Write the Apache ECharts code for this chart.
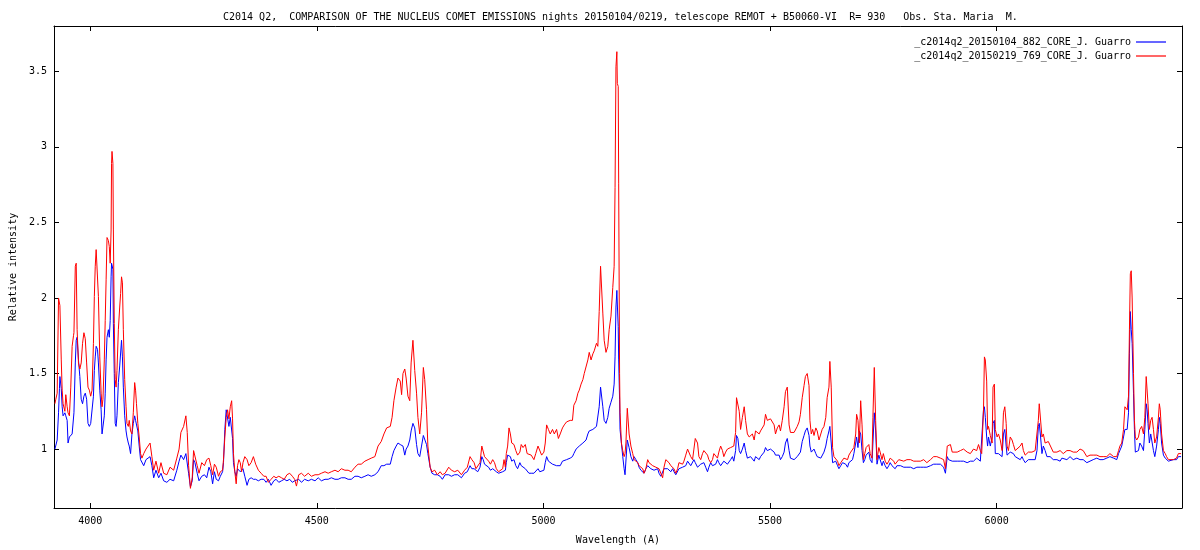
<!DOCTYPE html>
<html>
<head>
<meta charset="utf-8">
<script src="https://cdn.jsdelivr.net/npm/echarts@6/dist/echarts.min.js"></script>
<style>html,body{margin:0;padding:0;background:#fff}#c{width:1200px;height:550px}</style>
</head>
<body>
<div id="c"></div>
<script>
const titleText = "C2014 Q2,  COMPARISON OF THE NUCLEUS COMET EMISSIONS nights 20150104/0219, telescope REMOT + B50060-VI  R= 930   Obs. Sta. Maria  M.";
const seriesNames = ["_c2014q2_20150104_882_CORE_J. Guarro", "_c2014q2_20150219_769_CORE_J. Guarro"];
const xTicks = [4000, 4500, 5000, 5500, 6000];
const yTicks = [1, 1.5, 2, 2.5, 3, 3.5];

const wavelength = [
3922,3924,3927,3930,3932,3933,3936,3938,3940,3944,3946,3949,3951,3954,3957,3960,3963,3964,3967,3969,3971,3974,3977,3980,3983,3986,3989,3992,3995,3998,4001,4004,4007,4009,4011,4013,4016,4018,4021,4024,4026,4028,4031,4033,4035,4037,4040,4042,4044,4046,4047,4048,4050,4051,4053,4055,4057,4059,4062,4065,4067,4069,4071,4073,4076,4079,4081,4084,4086,4089,4092,4095,4098,4100,4102,4105,4108,4111,4114,
4118,4123,4127,4132,4136,4140,4145,4151,4156,4162,4169,4176,4184,4191,4196,4200,4206,4211,4214,4217,4221,4225,4228,4231,4236,4240,
4246,4252,4257,4262,4266,4270,4274,4278,4283,4287,4292,4294,4297,4300,4303,4306,4309,4312,4314,4316,4319,4322,4325,4328,4331,4334,4337,4341,4346,4350,4355,4360,4365,4371,4377,4383,4388,4393,4399,4405,4410,4416,4422,4428,4434,4440,4446,4451,4455,4460,4466,4473,4481,4488,4496,4503,4510,4518,4525,4532,4540,4547,4554,4562,4569,4576,4584,4591,4598,4606,4613,4620,4628,4635,4642,4648,4654,4662,4666,4670,4675,4679,4684,4687,4690,4694,4697,4701,4705,4708,4712,4716,4720,4723,4727,4731,4735,4738,4742,4745,4750,4754,4760,4766,4772,4777,4783,4791,4797,4804,4811,4819,
4826,4832,4838,4842,4847,4851,4855,4860,4864,4867,4870,4874,4879,4883,4888,4892,4896,4901,4905,4910,4913,4916,4918,4921,4924,4927,4930,4935,4939,4943,4948,4951,4955,4960,4964,4968,4973,4979,4983,4988,4992,4996,5001,5004,5007,5011,5015,5020,5024,5029,5033,5037,5042,5046,5051,5055,5059,5064,
5067,5072,5076,5079,5083,5087,5090,5094,5098,5101,5105,5109,5112,5117,5120,5123,5126,5129,5131,5134,5138,5142,5145,5149,5153,5156,5158,5160,5162,5163,5165,5166,5168,5169,5172,5175,5178,5180,5182,5185,5189,5193,5197,5200,5204,5208,
5211,5215,5219,5222,5226,5230,5233,5237,5241,5244,5248,5252,5255,5259,5263,5266,5270,5274,5277,5281,5285,5288,5292,5296,5299,5303,5307,5310,5314,5318,5321,5325,5329,5332,5335,5340,5343,5347,5351,5354,5358,5362,5365,5369,5373,5376,5380,5384,5387,5391,5395,5398,5402,5406,5409,5413,5417,5420,5424,5426,5429,5432,5435,5439,5443,5446,5450,5454,5457,5461,5465,5468,5472,5476,5479,5483,5487,5490,5494,5498,5501,5505,5509,5512,5516,5520,5523,5527,5531,5534,5538,5542,5545,5549,5553,5556,5560,5564,5567,5571,5575,5578,5582,5586,5588,5591,5594,5597,5601,5604,5608,5612,5615,5619,5623,5626,5630,5632,5635,5638,5641,5645,5649,5652,5656,5660,5663,5667,5671,5674,5678,5682,5685,5689,5691,5694,5697,5700,5703,5706,5709,5712,5715,5718,5721,5725,5727,5730,5733,5736,5740,5743,5747,5750,5754,5758,5762,5765,5769,5773,5776,5780,5784,
5788,5795,5802,5810,5817,5824,5832,5839,5846,5854,5861,5868,5876,5883,5887,5891,5894,5898,5902,5905,5913,5920,5927,5935,5942,5949,5956,5960,5964,5967,5971,5973,5975,5978,5980,5982,5986,5990,5992,5995,5997,6001,6004,6008,6012,6015,6018,6021,6023,6026,6030,6034,6037,6041,6045,6052,6056,6059,6063,6070,6078,6085,6089,6092,6094,6097,6100,6103,6107,6111,6114,6118,6125,6133,6140,6144,6147,6155,6162,6169,6177,6184,6191,6199,6206,6213,6221,6228,6235,6243,6250,6258,6265,6269,6272,6276,6280,6283,6286,6288,6291,6293,6295,6297,6299,6302,6304,6306,6309,6313,6316,6320,6324,6327,6330,6332,6334,6337,6340,6343,6346,6349,6353,6357,6359,6361,6364,6368,6372,6375,6379,6383,6390,6397,6401,6407
];

const blueValues = [
1.00,1.01,1.06,1.24,1.40,1.48,1.40,1.28,1.22,1.24,1.22,1.19,1.04,1.08,1.08,1.10,1.10,1.24,1.57,1.72,1.74,1.59,1.48,1.33,1.30,1.35,1.37,1.33,1.17,1.15,1.17,1.17,1.35,1.52,1.61,1.68,1.66,1.57,1.39,1.26,1.10,1.10,1.22,1.37,1.59,1.74,1.79,1.74,1.85,2.14,2.23,2.24,2.19,1.83,1.50,1.17,1.15,1.22,1.44,1.55,1.55,1.72,1.61,1.41,1.22,1.12,1.08,1.04,1.02,0.97,1.10,1.17,1.22,1.19,1.19,1.12,1.02,0.93,0.93,
0.89,0.93,0.92,0.95,0.89,0.81,0.86,0.81,0.84,0.79,0.78,0.80,0.79,0.86,0.92,0.96,0.93,0.97,0.96,0.84,0.75,0.79,0.93,0.91,0.84,0.79,
0.82,0.83,0.81,0.88,0.85,0.77,0.85,0.80,0.79,0.82,0.85,0.91,1.13,1.26,1.27,1.15,1.21,1.20,1.07,0.91,0.85,0.82,0.87,0.86,0.85,0.85,0.87,0.82,0.76,0.80,0.81,0.80,0.80,0.79,0.80,0.80,0.78,0.80,0.76,0.79,0.80,0.78,0.79,0.80,0.79,0.80,0.78,0.79,0.79,0.80,0.78,0.80,0.79,0.80,0.79,0.81,0.79,0.80,0.80,0.81,0.80,0.80,0.81,0.81,0.80,0.80,0.82,0.82,0.81,0.82,0.83,0.82,0.83,0.85,0.89,0.89,0.90,0.90,0.95,0.99,1.02,1.04,1.03,1.02,1.02,0.96,1.00,1.02,1.06,1.12,1.17,1.14,1.03,0.97,0.95,1.02,1.09,1.10,1.03,0.97,0.88,0.84,0.83,0.83,0.82,0.80,0.83,0.83,0.82,0.83,0.83,0.81,
0.84,0.85,0.89,0.87,0.87,0.86,0.85,0.88,0.95,0.93,0.90,0.89,0.88,0.86,0.87,0.86,0.85,0.84,0.83,0.85,0.86,0.86,0.91,0.96,0.96,0.95,0.92,0.93,0.89,0.87,0.91,0.89,0.88,0.87,0.86,0.84,0.84,0.84,0.85,0.87,0.85,0.85,0.86,0.91,0.95,0.92,0.91,0.90,0.89,0.89,0.88,0.89,0.92,0.93,0.93,0.93,0.94,0.95,
0.97,1.00,1.01,1.02,1.03,1.04,1.05,1.06,1.10,1.12,1.11,1.13,1.12,1.15,1.16,1.28,1.41,1.41,1.28,1.19,1.17,1.21,1.27,1.31,1.35,1.43,1.61,1.94,2.05,1.96,1.81,1.59,1.33,1.13,1.04,0.95,0.87,0.83,0.84,1.06,1.01,0.95,0.92,0.95,0.93,0.91,
0.88,0.86,0.87,0.84,0.87,0.89,0.88,0.87,0.87,0.86,0.85,0.87,0.84,0.82,0.81,0.87,0.88,0.87,0.88,0.85,0.87,0.85,0.83,0.84,0.87,0.87,0.88,0.87,0.89,0.92,0.91,0.89,0.88,0.93,0.91,0.88,0.89,0.90,0.89,0.91,0.88,0.85,0.88,0.91,0.89,0.88,0.90,0.93,0.91,0.89,0.90,0.92,0.91,0.90,0.91,0.93,0.95,0.92,0.99,1.09,1.07,0.99,0.97,1.00,1.04,0.99,0.94,0.93,0.95,0.94,0.92,0.95,0.94,0.93,0.95,0.96,0.98,1.01,0.99,1.00,1.00,1.00,0.98,0.96,0.95,0.96,0.93,0.95,0.98,1.04,1.07,0.99,0.94,0.93,0.93,0.94,0.95,0.96,0.98,1.05,1.09,1.12,1.14,1.09,1.02,0.98,0.97,1.00,0.97,0.95,0.96,0.94,0.95,0.98,1.02,1.07,1.12,1.15,1.04,0.91,0.90,0.92,0.89,0.87,0.89,0.91,0.91,0.90,0.88,0.91,0.91,0.93,0.97,1.04,1.08,1.01,1.12,1.10,0.99,0.91,0.93,0.96,0.95,0.98,0.93,0.91,1.04,1.24,1.12,0.90,0.96,0.93,0.89,0.92,0.89,0.87,0.89,0.91,0.89,0.88,0.87,0.89,0.90,
0.89,0.88,0.88,0.88,0.87,0.88,0.88,0.88,0.88,0.89,0.90,0.90,0.90,0.88,0.84,0.95,0.93,0.92,0.92,0.93,0.92,0.92,0.92,0.91,0.92,0.92,0.94,0.93,0.92,0.93,1.26,1.28,1.21,1.08,1.02,1.08,1.02,1.08,1.17,1.19,0.97,0.98,0.97,0.96,0.95,1.10,1.13,1.02,0.96,0.95,0.98,0.98,0.97,0.95,0.94,0.93,0.95,0.93,0.91,0.93,0.93,0.93,0.99,1.15,1.17,1.08,0.97,1.02,0.99,0.95,0.96,0.95,0.93,0.93,0.92,0.94,0.93,0.93,0.95,0.93,0.94,0.93,0.93,0.91,0.92,0.93,0.94,0.93,0.93,0.94,0.95,0.94,0.93,0.97,0.97,1.02,1.08,1.13,1.14,1.13,1.24,1.63,1.91,1.79,1.70,1.37,1.13,0.98,0.97,0.99,1.04,1.02,0.99,1.13,1.30,1.26,1.17,1.04,1.10,1.09,0.99,0.95,1.02,1.13,1.21,1.17,1.04,0.96,0.94,0.93,0.92,0.93,0.93,0.93,0.95,0.95
];

const redValues = [
1.30,1.33,1.37,2.00,2.01,1.95,1.59,1.39,1.30,1.25,1.36,1.28,1.24,1.22,1.41,1.68,1.75,1.77,2.21,2.23,1.79,1.57,1.53,1.57,1.70,1.77,1.73,1.57,1.41,1.39,1.35,1.39,1.70,2.01,2.21,2.32,2.32,2.01,1.61,1.37,1.28,1.33,1.59,1.85,2.12,2.40,2.38,2.34,2.23,2.45,2.89,2.97,2.89,2.45,1.83,1.46,1.41,1.52,1.79,1.94,2.03,2.14,2.10,1.79,1.46,1.28,1.17,1.15,1.19,1.12,1.10,1.24,1.44,1.39,1.30,1.17,1.08,0.97,0.94,
0.97,1.00,1.01,1.04,0.95,0.86,0.92,0.84,0.91,0.84,0.83,0.88,0.86,0.94,1.00,1.11,1.15,1.22,1.11,0.89,0.74,0.81,0.99,1.00,0.89,0.84,
0.91,0.89,0.93,0.94,0.89,0.83,0.90,0.88,0.82,0.85,0.86,0.93,1.08,1.21,1.26,1.20,1.28,1.32,1.20,0.97,0.85,0.77,0.89,0.93,0.91,0.85,0.91,0.95,0.93,0.89,0.91,0.95,0.90,0.86,0.84,0.82,0.82,0.78,0.80,0.82,0.81,0.82,0.81,0.80,0.83,0.84,0.82,0.80,0.755,0.83,0.84,0.82,0.84,0.82,0.83,0.83,0.84,0.85,0.84,0.85,0.86,0.85,0.87,0.86,0.86,0.85,0.88,0.90,0.90,0.92,0.93,0.94,0.95,1.02,1.05,1.10,1.14,1.15,1.21,1.32,1.41,1.47,1.45,1.36,1.50,1.53,1.47,1.35,1.32,1.57,1.72,1.52,1.37,1.21,1.10,1.24,1.54,1.46,1.26,1.02,0.88,0.85,0.86,0.83,0.85,0.83,0.84,0.88,0.86,0.85,0.86,0.83,
0.86,0.88,0.95,0.93,0.91,0.87,0.86,0.91,1.02,1.01,0.95,0.94,0.92,0.90,0.93,0.91,0.87,0.85,0.86,0.87,0.93,0.88,0.97,1.02,1.14,1.10,1.04,1.03,0.99,0.96,0.98,1.03,1.01,1.03,0.97,0.96,0.96,0.93,0.97,1.02,1.01,0.96,0.98,1.04,1.16,1.13,1.10,1.13,1.10,1.13,1.07,1.10,1.14,1.16,1.18,1.18,1.19,1.19,
1.29,1.32,1.37,1.39,1.43,1.46,1.50,1.51,1.59,1.64,1.59,1.63,1.65,1.70,1.68,1.91,2.21,2.21,1.90,1.72,1.64,1.68,1.79,1.88,2.07,2.21,2.73,3.53,3.63,3.42,3.40,2.76,1.50,1.24,1.04,0.99,0.95,0.97,1.04,1.27,1.10,1.02,0.97,0.93,0.94,0.91,
0.89,0.88,0.87,0.84,0.87,0.93,0.91,0.92,0.89,0.88,0.88,0.89,0.87,0.84,0.81,0.88,0.93,0.93,0.91,0.89,0.90,0.87,0.84,0.87,0.91,0.91,0.90,0.92,0.96,1.00,0.99,0.95,0.93,1.00,1.07,1.04,0.95,0.93,0.97,0.99,1.00,0.96,0.93,0.91,0.93,0.97,0.97,0.94,0.98,1.02,0.99,0.95,0.98,1.00,0.99,1.01,1.00,1.02,1.11,1.34,1.35,1.25,1.13,1.21,1.28,1.19,1.10,1.08,1.07,1.10,1.06,1.12,1.11,1.10,1.12,1.12,1.16,1.23,1.19,1.18,1.20,1.20,1.16,1.10,1.14,1.16,1.12,1.19,1.28,1.38,1.41,1.16,1.11,1.10,1.11,1.12,1.15,1.18,1.23,1.34,1.42,1.48,1.50,1.42,1.19,1.10,1.13,1.09,1.14,1.12,1.06,1.07,1.13,1.15,1.21,1.34,1.41,1.58,1.41,1.01,0.95,0.96,0.92,0.89,0.91,0.92,0.94,0.95,0.93,0.96,0.98,0.97,1.01,1.10,1.23,1.19,1.04,1.32,1.16,0.93,0.97,1.01,1.02,1.03,0.97,0.94,1.21,1.54,1.19,0.93,1.01,0.98,0.93,0.97,0.92,0.90,0.92,0.94,0.93,0.92,0.90,0.91,0.93,
0.93,0.92,0.93,0.93,0.92,0.92,0.92,0.93,0.91,0.93,0.95,0.95,0.94,0.93,0.87,1.02,1.01,1.03,0.98,0.99,0.98,0.99,1.00,0.98,0.97,1.00,0.99,1.03,0.99,0.97,1.26,1.61,1.59,1.45,1.13,1.15,1.09,1.04,1.41,1.43,1.13,1.08,1.10,1.06,0.99,1.24,1.28,1.17,1.02,0.99,1.08,1.06,1.03,0.99,0.99,1.02,1.04,0.99,0.96,0.98,0.98,0.99,0.99,1.19,1.30,1.29,1.08,1.10,1.04,1.03,1.05,1.04,0.98,0.98,0.99,1.00,0.97,0.99,0.99,0.98,0.98,1.00,0.99,0.95,0.96,0.96,0.96,0.95,0.95,0.95,0.97,0.95,0.95,0.99,1.02,1.04,1.13,1.28,1.27,1.26,1.35,1.79,2.16,2.18,2.00,1.50,1.19,1.08,1.06,1.08,1.13,1.15,1.10,1.21,1.48,1.49,1.30,1.13,1.19,1.21,1.13,1.04,1.08,1.21,1.30,1.26,1.10,0.99,0.97,0.95,0.93,0.93,0.93,0.94,0.97,0.97
];

const mono = "DejaVu Sans Mono";
const blueData = wavelength.map((w, i) => [w, blueValues[i]]);
const redData = wavelength.map((w, i) => [w, redValues[i]]);

const chart = echarts.init(document.getElementById('c'), null, {renderer: 'canvas'});
const axisCommon = {
  type: 'value',
  axisLine: {show: true, onZero: false, lineStyle: {color: '#000', width: 1}},
  splitLine: {show: false},
};
chart.setOption({
  animation: false,
  backgroundColor: '#fff',
  title: {
    text: titleText, left: 218, top: 7,
    textStyle: {fontFamily: mono, fontSize: 10, fontWeight: 'normal', color: '#000'}
  },
  legend: {
    orient: 'vertical', right: 29, top: 31, align: 'right',
    itemWidth: 30, itemHeight: 1.2, itemGap: 2, icon: 'rect',
    textStyle: {fontFamily: mono, fontSize: 10, color: '#000', lineHeight: 12},
    data: seriesNames
  },
  grid: {left: 52, right: 18, top: 26, bottom: 42, containLabel: false},
  xAxis: [
    Object.assign({}, axisCommon, {
      position: 'bottom', min: 3920, max: 6409,
      name: 'Wavelength (A)', nameLocation: 'middle', nameGap: 27,
      nameTextStyle: {fontFamily: mono, fontSize: 10, color: '#000'},
      axisTick: {show: true, inside: true, length: 5, customValues: xTicks, lineStyle: {color: '#000'}},
      axisLabel: {show: true, customValues: xTicks, margin: 8, fontFamily: mono, fontSize: 10, color: '#000',
        formatter: v => String(v)}
    }),
    Object.assign({}, axisCommon, {
      position: 'top', min: 3920, max: 6409,
      axisTick: {show: true, inside: true, length: 5, customValues: xTicks, lineStyle: {color: '#000'}},
      axisLabel: {show: false}
    })
  ],
  yAxis: [
    Object.assign({}, axisCommon, {
      position: 'left', min: 0.61, max: 3.8,
      name: 'Relative intensity', nameLocation: 'middle', nameGap: 36,
      nameTextStyle: {fontFamily: mono, fontSize: 10, color: '#000'},
      axisTick: {show: true, inside: true, length: 5, customValues: yTicks, lineStyle: {color: '#000'}},
      axisLabel: {show: true, customValues: yTicks, margin: 7, fontFamily: mono, fontSize: 10, color: '#000',
        formatter: v => String(v)}
    }),
    Object.assign({}, axisCommon, {
      position: 'right', min: 0.61, max: 3.8,
      axisTick: {show: true, inside: true, length: 5, customValues: yTicks, lineStyle: {color: '#000'}},
      axisLabel: {show: false}
    })
  ],
  series: [
    {name: seriesNames[0], type: 'line', xAxisIndex: 0, yAxisIndex: 0, data: blueData,
     showSymbol: false, symbol: 'none', color: '#0000ff', lineStyle: {width: 1, color: '#0000ff'}},
    {name: seriesNames[1], type: 'line', xAxisIndex: 0, yAxisIndex: 0, data: redData,
     showSymbol: false, symbol: 'none', color: '#ff0000', lineStyle: {width: 1, color: '#ff0000'}}
  ]
});
</script>
</body>
</html>
